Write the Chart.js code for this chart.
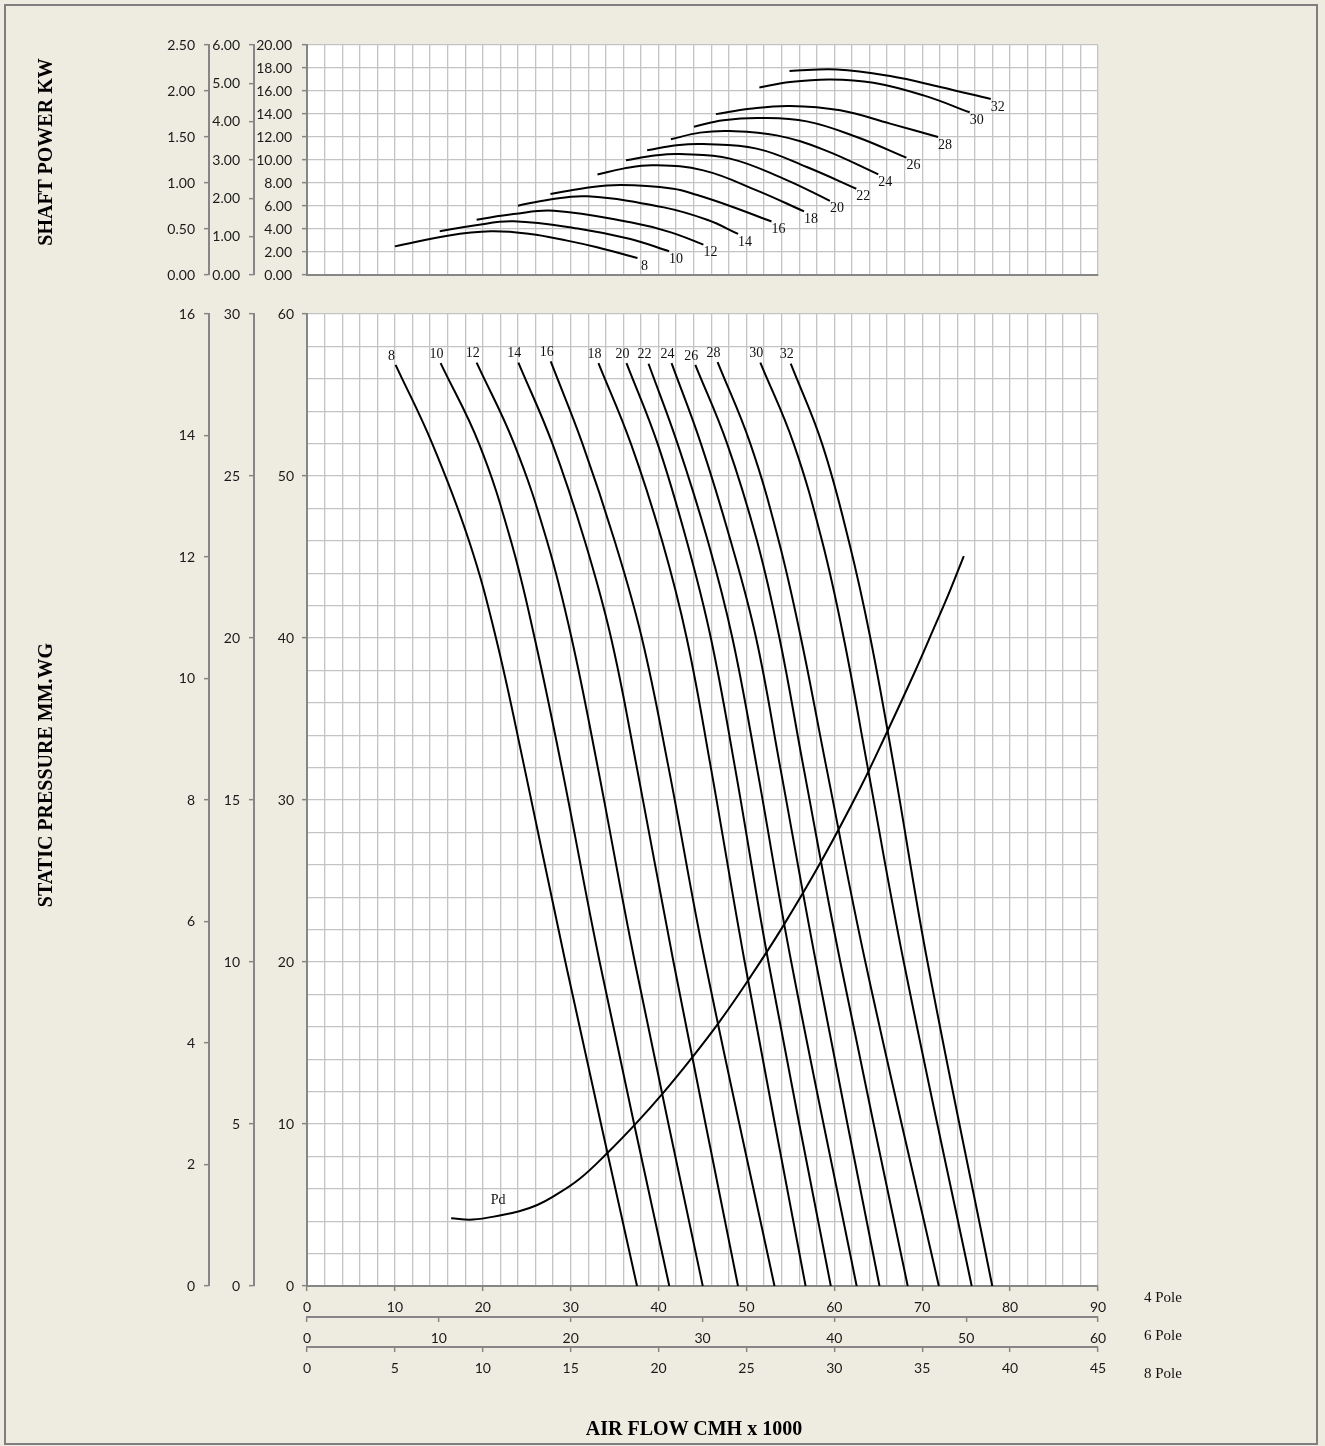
<!DOCTYPE html>
<html>
<head>
<meta charset="utf-8">
<script src="https://cdn.jsdelivr.net/npm/chart.js@4.4.1/dist/chart.umd.min.js"></script>
<style>
html,body{margin:0;padding:0;background:#EEECE1;}
#page{position:relative;width:1325px;height:1446px;overflow:hidden;background:#EEECE1;}
#frame{position:absolute;left:4px;top:4px;width:1310px;height:1437px;border:2px solid #7f7f7f;}
canvas{position:absolute;left:0;}
.title{position:absolute;font-family:"Liberation Serif",serif;font-weight:bold;font-size:20px;color:#000;white-space:nowrap;transform:translate(-50%,-50%);}
.vt{transform:translate(-50%,-50%) rotate(-90deg);}
</style>
</head>
<body>
<div id="page">
  <div id="frame"></div>
  <canvas id="topChart" width="1325" height="295" style="top:0"></canvas>
  <canvas id="bottomChart" width="1325" height="1151" style="top:295px"></canvas>
  <div class="title vt" style="left:45px;top:152px">SHAFT POWER KW</div>
  <div class="title vt" style="left:45px;top:775px">STATIC PRESSURE MM.WG</div>
  <div class="title" style="left:694px;top:1428px">AIR FLOW CMH x 1000</div>
</div>
<script>
// ---------------- DATA ----------------
const fanSizes = ['8','10','12','14','16','18','20','22','24','26','28','30','32'];
const poleNames = ['4 Pole','6 Pole','8 Pole'];
const pdName = 'Pd';

// Shaft power curves: [airflow (4 pole, x1000 CMH), power (0-20 scale)]
const power8  = [[10.0,2.49],[16.0,3.42],[20.9,3.80],[25.4,3.57],[29.6,2.99],[33.0,2.41],[37.6,1.48]];
const power10 = [[15.1,3.80],[19.0,4.30],[23.5,4.67],[31.1,4.00],[36.8,3.13],[41.2,2.06]];
const power12 = [[19.3,4.81],[23.5,5.30],[28.1,5.59],[36.8,4.58],[41.4,3.71],[45.1,2.64]];
const power14 = [[24.0,6.03],[27.5,6.55],[31.9,6.84],[40.6,5.88],[45.6,4.78],[49.05,3.57]];
const power16 = [[27.7,7.04],[31.5,7.55],[35.7,7.83],[41.67,7.51],[44.4,6.95],[48.13,6.0],[52.85,4.65]];
const power18 = [[33.05,8.74],[35.97,9.25],[39.39,9.54],[45.09,9.10],[51.16,7.36],[56.55,5.53]];
const power20 = [[36.3,9.97],[39.77,10.41],[42.43,10.52],[48.13,10.12],[54.2,8.38],[59.5,6.45]];
const power22 = [[38.7,10.85],[42.05,11.28],[45.09,11.39],[51.16,10.99],[56.86,9.39],[62.5,7.5]];
const power24 = [[41.4,11.8],[44.71,12.38],[48.13,12.52],[53.44,12.14],[58.76,10.9],[65.0,8.75]];
const power26 = [[44.03,12.9],[47.37,13.45],[51.54,13.65],[56.86,13.36],[62.55,12.0],[68.2,10.2]];
const power28 = [[46.53,13.99],[50.4,14.46],[54.96,14.7],[60.66,14.32],[66.35,13.16],[71.8,12.0]];
const power30 = [[51.47,16.3],[54.96,16.78],[59.52,17.01],[64.45,16.72],[70.15,15.62],[75.4,14.15]];
const power32 = [[54.9,17.74],[60.28,17.88],[66.35,17.3],[72.05,16.35],[77.8,15.3]];

// Static pressure curves: [airflow, pressure (0-60 scale)]
const pressure8  = [[10.08,56.86],[14.25,52],[18.43,46],[21.5,40],[24.74,32],[29.4,20],[37.55,0]];
const pressure10 = [[15.2,56.97],[19.57,52],[23.2,46],[25.9,40],[28.99,32],[33.3,20],[41.22,0]];
const pressure12 = [[19.3,57.0],[23.56,52],[27.3,46],[30.1,40],[33.09,32],[37.3,20],[45.03,0]];
const pressure14 = [[24.05,57.0],[27.92,52],[31.6,46],[34.6,40],[37.53,32],[41.7,20],[49.04,0]];
const pressure16 = [[27.73,57.07],[31.34,52],[35.0,46],[38.1,40],[41.14,32],[45.3,20],[53.19,0]];
const pressure18 = [[33.16,56.97],[36.85,52],[40.4,46],[43.2,40],[45.95,32],[49.8,20],[56.73,0]];
const pressure20 = [[36.35,56.97],[39.89,52],[43.2,46],[45.95,40],[48.7,32],[52.5,20],[59.6,0]];
const pressure22 = [[38.86,56.93],[42.16,52],[45.6,46],[48.4,40],[51.19,32],[55.1,20],[62.54,0]];
const pressure24 = [[41.48,56.97],[44.82,52],[48.2,46],[51.1,40],[53.85,32],[57.9,20],[65.14,0]];
const pressure26 = [[44.18,56.86],[47.8,52],[51.2,46],[53.76,40],[56.5,32],[60.68,20],[68.35,0]];
const pressure28 = [[46.72,57.03],[50.44,52],[53.67,46],[56.2,40],[59.1,32],[63.53,20],[71.89,0]];
const pressure30 = [[51.58,57.0],[55.37,52],[58.6,46],[61.07,40],[63.8,32],[67.9,20],[75.63,0]];
const pressure32 = [[55.04,56.93],[58.6,52],[61.64,46],[64.1,40],[66.8,32],[70.6,20],[77.97,0]];

// Dynamic pressure curve
const pdCurve = [[16.4,4.18],[18.87,4.1],[22.2,4.38],[24.15,4.61],[26.2,5.0],[27.95,5.5],[30.99,6.6],[34.21,8.23],[37.44,10.04],[40.48,11.89],[43.9,14.16],[46.94,16.32],[50.35,19.0],[54.15,22.2],[58.7,26.4],[63.0,30.8],[66.0,34.2],[69.15,37.9],[71.24,40.5],[73.14,42.9],[74.73,45.06]];

// Axis ranges [min, max, step]
const xRange4 = [0, 90, 2];
const xRange6 = [0, 60, 10];
const xRange8 = [0, 45, 5];
const powerRanges = [[0,20,2],[0,6,1],[0,2.5,0.5]];
const pressureRanges = [[0,60,2],[0,30,5],[0,16,2]];

const powerSeries = [power8,power10,power12,power14,power16,power18,power20,power22,power24,power26,power28,power30,power32];
const pressureSeries = [pressure8,pressure10,pressure12,pressure14,pressure16,pressure18,pressure20,pressure22,pressure24,pressure26,pressure28,pressure30,pressure32];

// ---------------- STYLE / BUILD ----------------
const AXIS = '#868686';
const GRID = '#c4c4c4';
const TXT = '#1a1a1a';
const tickFont = {family:'Lato', size:14};

const pts = arr => arr.map(([x,y]) => ({x, y}));

const plotBg = {
  id:'plotBg',
  beforeDraw(chart){
    const a = chart.chartArea, c = chart.ctx;
    c.save(); c.fillStyle = '#ffffff'; c.fillRect(a.left, a.top, a.right-a.left, a.bottom-a.top); c.restore();
  }
};

const curveLabels = {
  id:'curveLabels',
  afterDatasetsDraw(chart){
    const c = chart.ctx;
    c.save();
    c.font = '14px "Liberation Serif", serif';
    c.fillStyle = '#111';
    c.textAlign = 'center';
    c.textBaseline = 'middle';
    chart.data.datasets.forEach((ds, i) => {
      if (!ds.tag) return;
      const meta = chart.getDatasetMeta(i);
      const idx = ds.tagIndex === 'end' ? meta.data.length - 1 : ds.tagIndex;
      const p = meta.data[idx];
      c.fillText(ds.tag, p.x + ds.tagDx, p.y + ds.tagDy);
    });
    c.restore();
  }
};

const poleLabels = {
  id:'poleLabels',
  afterDraw(chart){
    const c = chart.ctx;
    c.save();
    c.font = '15px "Liberation Serif", serif';
    c.fillStyle = '#111';
    c.textAlign = 'left';
    c.textBaseline = 'middle';
    const ids = ['x','x2','x3'];
    const dys = [12, 19, 27];
    ids.forEach((id, k) => {
      const s = chart.scales[id];
      c.fillText(poleNames[k], s.right + 46, s.top + dys[k]);
    });
    c.restore();
  }
};

function majorTickColor(mod){
  return ctx => (ctx.tick && Math.abs(ctx.tick.value % mod) < 1e-9) ? AXIS : 'rgba(0,0,0,0)';
}

function leftAxis(range, weight, width, pad, fmt, main, tickColor){
  return {
    type:'linear', position:'left', min:range[0], max:range[1], weight,
    ticks:{stepSize:range[2], autoSkip:false, padding:pad, callback:fmt, color:TXT, font:tickFont},
    grid:{drawOnChartArea:main, color:GRID, lineWidth:1.3, tickLength:5, tickColor:tickColor || AXIS, tickWidth:1.5},
    border:{color:AXIS, width:2},
    afterFit(s){ s.width = width; }
  };
}

function bottomAxis(range, weight, height, main, fmt, tickColor){
  return {
    type:'linear', position:'bottom', min:range[0], max:range[1], weight,
    ticks:{stepSize:range[2], autoSkip:false, maxRotation:0, padding:8, callback:fmt, color:TXT, font:tickFont},
    grid:{drawOnChartArea:main, color:GRID, lineWidth:1.3, tickLength:5, tickColor:tickColor || AXIS, tickWidth:1.5},
    border:{color:AXIS, width:2},
    afterFit(s){ s.height = height; }
  };
}

const baseOpts = {
  responsive:false, animation:false, events:[],
  plugins:{legend:{display:false}, tooltip:{enabled:false}},
  elements:{point:{radius:0}, line:{borderColor:'#000', borderWidth:2, tension:0.4, cubicInterpolationMode:'default'}}
};

// ---- Top chart (shaft power) ----
const topDatasets = powerSeries.map((s, i) => ({
  data: pts(s), borderColor:'#000', borderWidth:2, fill:false,
  tag: fanSizes[i], tagIndex:'end', tagDx:7, tagDy:8
}));

new Chart(document.getElementById('topChart'), {
  type:'line',
  data:{datasets: topDatasets},
  options:Object.assign({}, baseOpts, {
    layout:{padding:{left:150, right:227, top:45, bottom:20}},
    scales:{
      x:{type:'linear', position:'bottom', min:xRange4[0], max:xRange4[1], weight:0,
         ticks:{display:false, stepSize:xRange4[2], autoSkip:false},
         grid:{color:GRID, lineWidth:1.3, drawTicks:false},
         border:{color:AXIS, width:2},
         afterFit(s){ s.height = 0; }},
      y: leftAxis(powerRanges[0], 0, 53, 10, v => v.toFixed(2), true),
      y2: leftAxis(powerRanges[1], 1, 45, 9, v => v.toFixed(2), false),
      y1: leftAxis(powerRanges[2], 2, 59, 9, v => v.toFixed(2), false)
    }
  }),
  plugins:[plotBg, curveLabels]
});

// ---- Bottom chart (static pressure) ----
const bottomDatasets = pressureSeries.map((s, i) => ({
  data: pts(s), borderColor:'#000', borderWidth:2, fill:false,
  tag: fanSizes[i], tagIndex:0, tagDx:-4, tagDy:-9
}));
bottomDatasets.push({
  data: pts(pdCurve), borderColor:'#000', borderWidth:2, fill:false,
  tag: pdName, tagIndex:2, tagDx:-4, tagDy:-15
});

new Chart(document.getElementById('bottomChart'), {
  type:'line',
  data:{datasets: bottomDatasets},
  options:Object.assign({}, baseOpts, {
    layout:{padding:{left:150, right:227, top:19, bottom:65}},
    scales:{
      x: bottomAxis(xRange4, 0, 31, true, v => (v % 10 === 0 ? v : ''), majorTickColor(10)),
      x2: bottomAxis(xRange6, 1, 30, false, v => v),
      x3: bottomAxis(xRange8, 2, 34, false, v => v),
      y: leftAxis(pressureRanges[0], 0, 53, 8, v => (v % 10 === 0 ? v : ''), true, majorTickColor(10)),
      y2: leftAxis(pressureRanges[1], 1, 45, 9, v => v, false),
      y1: leftAxis(pressureRanges[2], 2, 59, 9, v => v, false)
    }
  }),
  plugins:[plotBg, curveLabels, poleLabels]
});
</script>
</body>
</html>
